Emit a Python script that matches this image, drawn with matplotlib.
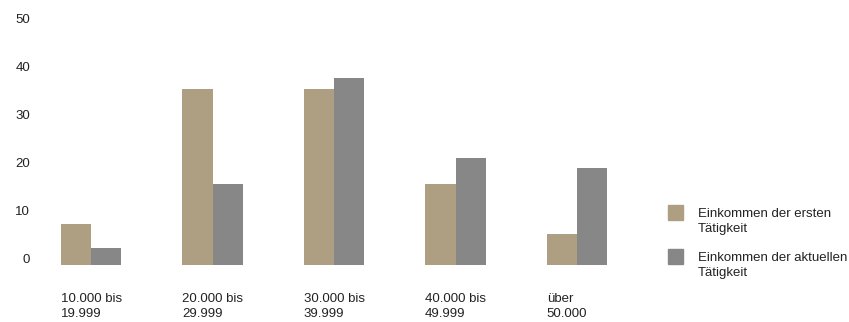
import numpy as np
import matplotlib
matplotlib.use("Agg")
import matplotlib.pyplot as plt
from matplotlib.patches import Rectangle

plt.rcParams['font.family'] = ['Liberation Sans', 'DejaVu Sans']
plt.rcParams['font.size'] = 9.5

categories = ["10.000 bis\n19.999", "20.000 bis\n29.999", "30.000 bis\n39.999",
              "40.000 bis\n49.999", "über\n50.000"]
erste = [7.1, 35.4, 35.4, 15.6, 5.2]
aktuelle = [2.1, 15.6, 37.7, 21.0, 18.9]
series_names = ["Einkommen der ersten\nTätigkeit", "Einkommen der aktuellen\nTätigkeit"]
colors = ["#AE9E82", "#878787"]
yticks = [0, 10, 20, 30, 40, 50]

W, H = 849, 322
fig = plt.figure(figsize=(W / 100, H / 100), dpi=100)

# axes placed in pixel terms
left_px, right_px, top_px, bottom_px = 40, 640, 10, 270
ax = fig.add_axes([left_px / W, (H - bottom_px) / H,
                   (right_px - left_px) / W, (bottom_px - top_px) / H])

x = np.arange(len(categories))
w = 0.25
base = -1.4  # bars start slightly below the zero label
ax.bar(x - w / 2, np.array(erste) - base, w, bottom=base, color=colors[0])
ax.bar(x + w / 2, np.array(aktuelle) - base, w, bottom=base, color=colors[1])

ax.set_xlim((left_px - 91) / 121.5, (right_px - 91) / 121.5)
ax.set_ylim((258.5 - bottom_px) / 4.8, (258.5 - top_px) / 4.8)

ax.set_yticks(yticks)
ax.set_xticks(x - w)
ax.set_xticklabels(categories, ha='left', color='#222222', linespacing=1.3)
ax.tick_params(axis='x', length=0, pad=16.5)
ax.tick_params(axis='y', length=0, pad=7, labelcolor='#222222')
for s in ax.spines.values():
    s.set_visible(False)

# legend
for i, (name, c) in enumerate(zip(series_names, colors)):
    top = 205 + i * 44
    fig.add_artist(Rectangle((668 / W, 1 - (top + 15) / H), 15 / W, 15 / H,
                             transform=fig.transFigure, color=c))
    fig.text(698 / W, 1 - (top + 3) / H, name, va='top', ha='left',
             color='#222222', fontsize=9.5, linespacing=1.3)

fig.savefig("out.png", dpi=100)
